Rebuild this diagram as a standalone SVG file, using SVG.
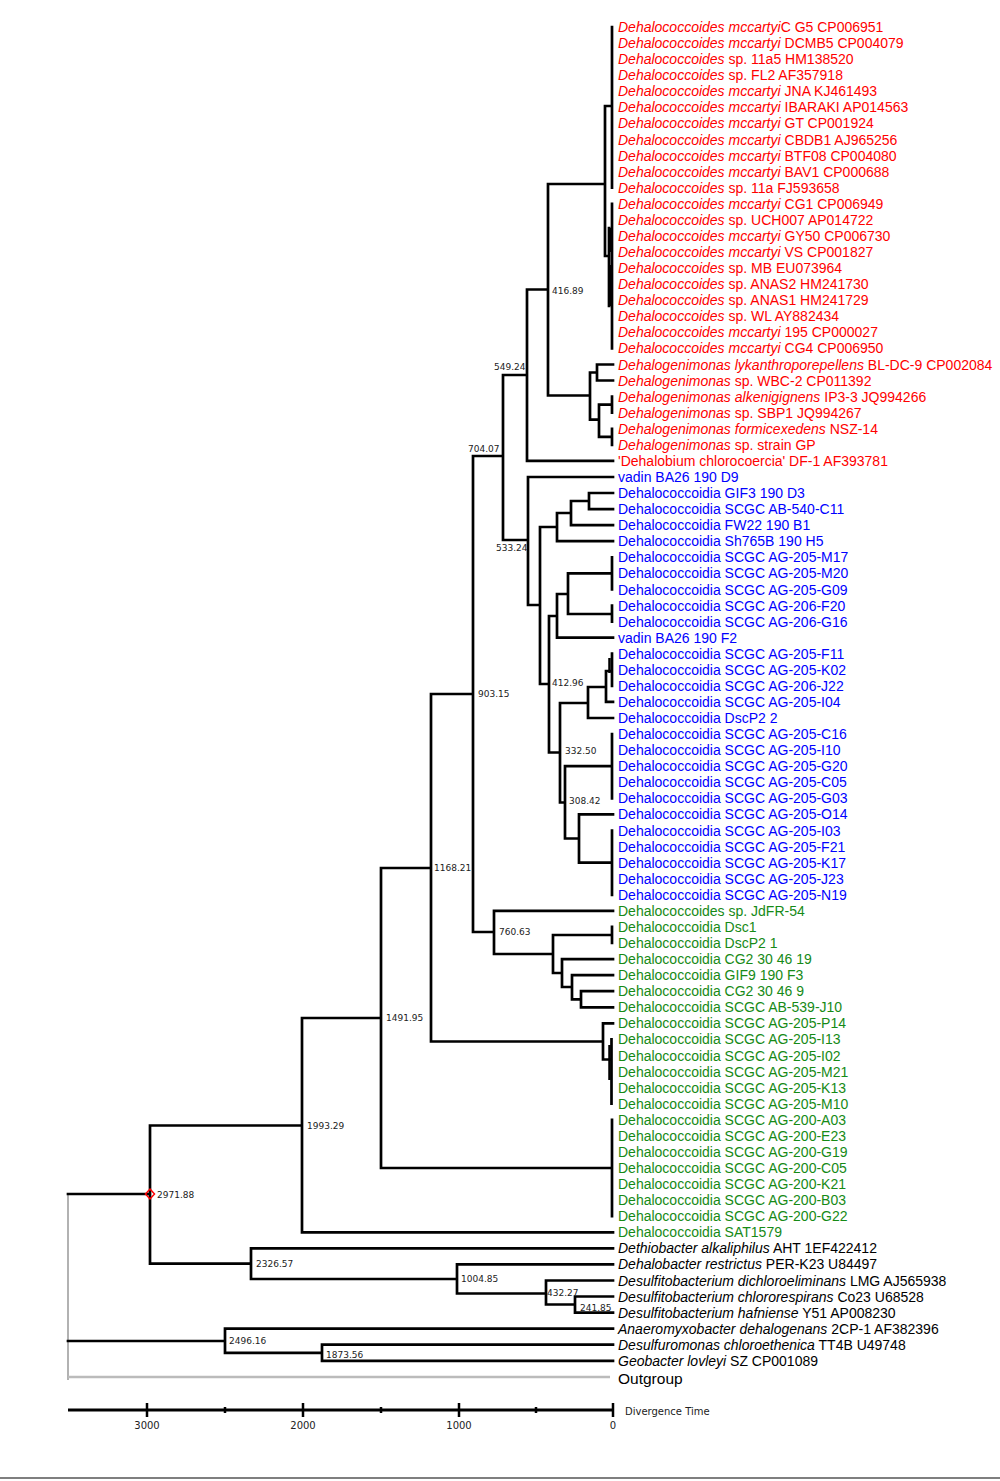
<svg xmlns="http://www.w3.org/2000/svg" width="1000" height="1481" viewBox="0 0 1000 1481">
<style>
.lf{font-family:"Liberation Sans",Arial,sans-serif;font-size:14px}
.r{fill:#ff0000}.b{fill:#0000ff}.g{fill:#168a16}.k{fill:#000}
.i{font-style:italic}
.nl{font-family:"DejaVu Sans",sans-serif;font-size:9px;fill:#222}
.br{fill:none;stroke:#000;stroke-width:2.7;stroke-linecap:square}
.ax{fill:none;stroke:#000}
.al{font-family:"DejaVu Sans",sans-serif;font-size:10px;fill:#222}
</style>
<rect width="1000" height="1481" fill="#fff"/>
<g id="connectors">
<path d="M68 1194 V1380" stroke="#999" stroke-width="1.5" fill="none"/>
<path d="M68 1377 H610" stroke="#bbb" stroke-width="2.5" fill="none"/>
<path class="br" d="M68 1194 H150 M68 1341 H225
M150 1125.5 V1263.7 M150 1125.5 H302 M150 1263.7 H251
M302 1018 V1232.3 M302 1018 H381 M302 1232.3 H613
M381 868 V1168 M381 868 H431 M381 1168 H612 M612 1119.8 V1216.2
M431 694 V1041.5 M431 694 H473 M431 1041.5 H603
M603 1023.3 V1059.5 M603 1023.3 H613 M603 1059.5 H611 M611.5 1039.4 V1103.7
M473 456 V932 M473 456 H503 M473 932 H494
M494 910.9 V954 M494 910.9 H613 M494 954 H553
M553 935 V973 M553 935 H612 M612 926.9 V943 M553 973 H562
M562 959.1 V987 M562 959.1 H613 M562 987 H572
M572 975.1 V999.3 M572 975.1 H613 M572 999.3 H581
M581 991.2 V1007.3 M581 991.2 H613 M581 1007.3 H613
M503 375 V540 M503 375 H527 M503 540 H528
M527 289.5 V460.9 M527 289.5 H548 M527 460.9 H613
M548 184 V395.5 M548 184 H605 M548 395.5 H590
M605 106 V256 M605 106 H612 M605 256 H609
M612 27 V187.7
M612 203.8 V348.4 M609 228 V306
M590 372.5 V419.7 M590 372.5 H597 M590 419.7 H599
M597 364.5 V380.5 M597 364.5 H613 M597 380.5 H613
M599 404.6 V436.8 M599 404.6 H612 M599 436.8 H612 M612 396.6 V412.7 M612 428.8 V444.8
M528 477 V605 M528 477 H613 M528 605 H540
M540 527 V684 M540 527 H557 M540 684 H549
M557 513 V541.2 M557 513 H571 M557 541.2 H613
M571 501 V525.2 M571 501 H589 M571 525.2 H613
M589 493 V509.1 M589 493 H613 M589 509.1 H613
M549 616 V752.5 M549 616 H557 M549 752.5 H560
M557 594 V637.7 M557 594 H568 M557 637.7 H613
M568 573.4 V614 M568 573.4 H612 M568 614 H612 M612 557.3 V589.5 M612 605.5 V621.6
M560 703 V802.5 M560 703 H588 M560 802.5 H565
M588 687 V718 M588 687 H606 M588 718 H613
M606 671 V701.9 M606 671 H612 M606 701.9 H613 M612 653.7 V685.9
M565 766.2 V838.5 M565 766.2 H612 M612 734.1 V798.4 M565 838.5 H579
M579 814.4 V862.6 M579 814.4 H613 M579 862.6 H612 M612 830.5 V894.8
M251 1248.3 V1279 M251 1248.3 H613 M251 1279 H457
M457 1264.4 V1293.5 M457 1264.4 H613 M457 1293.5 H546
M546 1280.5 V1304.5 M546 1280.5 H613 M546 1304.5 H575
M575 1296.5 V1312.6 M575 1296.5 H613 M575 1312.6 H613
M225 1328.7 V1352.8 M225 1328.7 H613 M225 1352.8 H322
M322 1344.7 V1360.8 M322 1344.7 H613 M322 1360.8 H613"/>
<path d="M610.5 228 V252 M610.5 265 V306 M609.5 658 V673 M609.5 1045 V1080" stroke="#000" stroke-width="2.5" fill="none"/>
<polygon points="150,1189 154.5,1194 150,1199 145.5,1194" fill="none" stroke="#ff0000" stroke-width="1.5"/>
</g>
<g id="leaves" class="lf">
<g id="n1"><text class="r" x="618" y="32"><tspan class="i">Dehalococcoides mccartyi</tspan>C G5 CP006951</text></g>
<g id="n2"><text class="r" x="618" y="48.1"><tspan class="i">Dehalococcoides mccartyi</tspan> DCMB5 CP004079</text></g>
<g id="n3"><text class="r" x="618" y="64.1"><tspan class="i">Dehalococcoides</tspan> sp. 11a5 HM138520</text></g>
<g id="n4"><text class="r" x="618" y="80.2"><tspan class="i">Dehalococcoides</tspan> sp. FL2 AF357918</text></g>
<g id="n5"><text class="r" x="618" y="96.3"><tspan class="i">Dehalococcoides mccartyi</tspan> JNA KJ461493</text></g>
<g id="n6"><text class="r" x="618" y="112.4"><tspan class="i">Dehalococcoides mccartyi</tspan> IBARAKI AP014563</text></g>
<g id="n7"><text class="r" x="618" y="128.4"><tspan class="i">Dehalococcoides mccartyi</tspan> GT CP001924</text></g>
<g id="n8"><text class="r" x="618" y="144.5"><tspan class="i">Dehalococcoides mccartyi</tspan> CBDB1 AJ965256</text></g>
<g id="n9"><text class="r" x="618" y="160.6"><tspan class="i">Dehalococcoides mccartyi</tspan> BTF08 CP004080</text></g>
<g id="n10"><text class="r" x="618" y="176.6"><tspan class="i">Dehalococcoides mccartyi</tspan> BAV1 CP000688</text></g>
<g id="n11"><text class="r" x="618" y="192.7"><tspan class="i">Dehalococcoides</tspan> sp. 11a FJ593658</text></g>
<g id="n12"><text class="r" x="618" y="208.8"><tspan class="i">Dehalococcoides mccartyi</tspan> CG1 CP006949</text></g>
<g id="n13"><text class="r" x="618" y="224.8"><tspan class="i">Dehalococcoides</tspan> sp. UCH007 AP014722</text></g>
<g id="n14"><text class="r" x="618" y="240.9"><tspan class="i">Dehalococcoides mccartyi</tspan> GY50 CP006730</text></g>
<g id="n15"><text class="r" x="618" y="257"><tspan class="i">Dehalococcoides mccartyi</tspan> VS CP001827</text></g>
<g id="n16"><text class="r" x="618" y="273.1"><tspan class="i">Dehalococcoides</tspan> sp. MB EU073964</text></g>
<g id="n17"><text class="r" x="618" y="289.1"><tspan class="i">Dehalococcoides</tspan> sp. ANAS2 HM241730</text></g>
<g id="n18"><text class="r" x="618" y="305.2"><tspan class="i">Dehalococcoides</tspan> sp. ANAS1 HM241729</text></g>
<g id="n19"><text class="r" x="618" y="321.3"><tspan class="i">Dehalococcoides</tspan> sp. WL AY882434</text></g>
<g id="n20"><text class="r" x="618" y="337.3"><tspan class="i">Dehalococcoides mccartyi</tspan> 195 CP000027</text></g>
<g id="n21"><text class="r" x="618" y="353.4"><tspan class="i">Dehalococcoides mccartyi</tspan> CG4 CP006950</text></g>
<g id="n22"><text class="r" x="618" y="369.5"><tspan class="i">Dehalogenimonas lykanthroporepellens</tspan> BL-DC-9 CP002084</text></g>
<g id="n23"><text class="r" x="618" y="385.5"><tspan class="i">Dehalogenimonas</tspan> sp. WBC-2 CP011392</text></g>
<g id="n24"><text class="r" x="618" y="401.6"><tspan class="i">Dehalogenimonas alkenigignens</tspan> IP3-3 JQ994266</text></g>
<g id="n25"><text class="r" x="618" y="417.7"><tspan class="i">Dehalogenimonas</tspan> sp. SBP1 JQ994267</text></g>
<g id="n26"><text class="r" x="618" y="433.8"><tspan class="i">Dehalogenimonas formicexedens</tspan> NSZ-14</text></g>
<g id="n27"><text class="r" x="618" y="449.8"><tspan class="i">Dehalogenimonas</tspan> sp. strain GP</text></g>
<g id="n28"><text class="r" x="618" y="465.9">'Dehalobium chlorocoercia' DF-1 AF393781</text></g>
<g id="n29"><text class="b" x="618" y="482">vadin BA26 190 D9</text></g>
<g id="n30"><text class="b" x="618" y="498">Dehalococcoidia GIF3 190 D3</text></g>
<g id="n31"><text class="b" x="618" y="514.1">Dehalococcoidia SCGC AB-540-C11</text></g>
<g id="n32"><text class="b" x="618" y="530.2">Dehalococcoidia FW22 190 B1</text></g>
<g id="n33"><text class="b" x="618" y="546.2">Dehalococcoidia Sh765B 190 H5</text></g>
<g id="n34"><text class="b" x="618" y="562.3">Dehalococcoidia SCGC AG-205-M17</text></g>
<g id="n35"><text class="b" x="618" y="578.4">Dehalococcoidia SCGC AG-205-M20</text></g>
<g id="n36"><text class="b" x="618" y="594.5">Dehalococcoidia SCGC AG-205-G09</text></g>
<g id="n37"><text class="b" x="618" y="610.5">Dehalococcoidia SCGC AG-206-F20</text></g>
<g id="n38"><text class="b" x="618" y="626.6">Dehalococcoidia SCGC AG-206-G16</text></g>
<g id="n39"><text class="b" x="618" y="642.7">vadin BA26 190 F2</text></g>
<g id="n40"><text class="b" x="618" y="658.7">Dehalococcoidia SCGC AG-205-F11</text></g>
<g id="n41"><text class="b" x="618" y="674.8">Dehalococcoidia SCGC AG-205-K02</text></g>
<g id="n42"><text class="b" x="618" y="690.9">Dehalococcoidia SCGC AG-206-J22</text></g>
<g id="n43"><text class="b" x="618" y="706.9">Dehalococcoidia SCGC AG-205-I04</text></g>
<g id="n44"><text class="b" x="618" y="723">Dehalococcoidia DscP2 2</text></g>
<g id="n45"><text class="b" x="618" y="739.1">Dehalococcoidia SCGC AG-205-C16</text></g>
<g id="n46"><text class="b" x="618" y="755.2">Dehalococcoidia SCGC AG-205-I10</text></g>
<g id="n47"><text class="b" x="618" y="771.2">Dehalococcoidia SCGC AG-205-G20</text></g>
<g id="n48"><text class="b" x="618" y="787.3">Dehalococcoidia SCGC AG-205-C05</text></g>
<g id="n49"><text class="b" x="618" y="803.4">Dehalococcoidia SCGC AG-205-G03</text></g>
<g id="n50"><text class="b" x="618" y="819.4">Dehalococcoidia SCGC AG-205-O14</text></g>
<g id="n51"><text class="b" x="618" y="835.5">Dehalococcoidia SCGC AG-205-I03</text></g>
<g id="n52"><text class="b" x="618" y="851.6">Dehalococcoidia SCGC AG-205-F21</text></g>
<g id="n53"><text class="b" x="618" y="867.6">Dehalococcoidia SCGC AG-205-K17</text></g>
<g id="n54"><text class="b" x="618" y="883.7">Dehalococcoidia SCGC AG-205-J23</text></g>
<g id="n55"><text class="b" x="618" y="899.8">Dehalococcoidia SCGC AG-205-N19</text></g>
<g id="n56"><text class="g" x="618" y="915.9">Dehalococcoides sp. JdFR-54</text></g>
<g id="n57"><text class="g" x="618" y="931.9">Dehalococcoidia Dsc1</text></g>
<g id="n58"><text class="g" x="618" y="948">Dehalococcoidia DscP2 1</text></g>
<g id="n59"><text class="g" x="618" y="964.1">Dehalococcoidia CG2 30 46 19</text></g>
<g id="n60"><text class="g" x="618" y="980.1">Dehalococcoidia GIF9 190 F3</text></g>
<g id="n61"><text class="g" x="618" y="996.2">Dehalococcoidia CG2 30 46 9</text></g>
<g id="n62"><text class="g" x="618" y="1012.3">Dehalococcoidia SCGC AB-539-J10</text></g>
<g id="n63"><text class="g" x="618" y="1028.3">Dehalococcoidia SCGC AG-205-P14</text></g>
<g id="n64"><text class="g" x="618" y="1044.4">Dehalococcoidia SCGC AG-205-I13</text></g>
<g id="n65"><text class="g" x="618" y="1060.5">Dehalococcoidia SCGC AG-205-I02</text></g>
<g id="n66"><text class="g" x="618" y="1076.6">Dehalococcoidia SCGC AG-205-M21</text></g>
<g id="n67"><text class="g" x="618" y="1092.6">Dehalococcoidia SCGC AG-205-K13</text></g>
<g id="n68"><text class="g" x="618" y="1108.7">Dehalococcoidia SCGC AG-205-M10</text></g>
<g id="n69"><text class="g" x="618" y="1124.8">Dehalococcoidia SCGC AG-200-A03</text></g>
<g id="n70"><text class="g" x="618" y="1140.8">Dehalococcoidia SCGC AG-200-E23</text></g>
<g id="n71"><text class="g" x="618" y="1156.9">Dehalococcoidia SCGC AG-200-G19</text></g>
<g id="n72"><text class="g" x="618" y="1173">Dehalococcoidia SCGC AG-200-C05</text></g>
<g id="n73"><text class="g" x="618" y="1189">Dehalococcoidia SCGC AG-200-K21</text></g>
<g id="n74"><text class="g" x="618" y="1205.1">Dehalococcoidia SCGC AG-200-B03</text></g>
<g id="n75"><text class="g" x="618" y="1221.2">Dehalococcoidia SCGC AG-200-G22</text></g>
<g id="n76"><text class="g" x="618" y="1237.3">Dehalococcoidia SAT1579</text></g>
<g id="n77"><text class="k" x="618" y="1253.3"><tspan class="i">Dethiobacter alkaliphilus</tspan> AHT 1EF422412</text></g>
<g id="n78"><text class="k" x="618" y="1269.4"><tspan class="i">Dehalobacter restrictus</tspan> PER-K23 U84497</text></g>
<g id="n79"><text class="k" x="618" y="1285.5"><tspan class="i">Desulfitobacterium dichloroeliminans</tspan> LMG AJ565938</text></g>
<g id="n80"><text class="k" x="618" y="1301.5"><tspan class="i">Desulfitobacterium chlororespirans</tspan> Co23 U68528</text></g>
<g id="n81"><text class="k" x="618" y="1317.6"><tspan class="i">Desulfitobacterium hafniense</tspan> Y51 AP008230</text></g>
<g id="n82"><text class="k" x="618" y="1333.7"><tspan class="i">Anaeromyxobacter dehalogenans</tspan> 2CP-1 AF382396</text></g>
<g id="n83"><text class="k" x="618" y="1349.7"><tspan class="i">Desulfuromonas chloroethenica</tspan> TT4B U49748</text></g>
<g id="n84"><text class="k" x="618" y="1365.8"><tspan class="i">Geobacter lovleyi</tspan> SZ CP001089</text></g>
<g id="outgroup"><text class="k" x="618" y="1383.5" font-size="15.5">Outgroup</text></g>
</g>
<g id="internal-nodes" class="nl">
<g id="t416"><text x="552" y="293.5">416.89</text></g>
<g id="t549"><text x="494" y="370">549.24</text></g>
<g id="t704"><text x="468" y="452">704.07</text></g>
<g id="t533"><text x="496" y="551">533.24</text></g>
<g id="t903"><text x="478" y="697">903.15</text></g>
<g id="t412"><text x="552" y="686">412.96</text></g>
<g id="t332"><text x="565" y="754">332.50</text></g>
<g id="t308"><text x="569" y="804">308.42</text></g>
<g id="t760"><text x="499" y="935">760.63</text></g>
<g id="t1168"><text x="434" y="871">1168.21</text></g>
<g id="t1491"><text x="386" y="1021">1491.95</text></g>
<g id="t1993"><text x="307" y="1129">1993.29</text></g>
<g id="t2971"><text x="157" y="1198">2971.88</text></g>
<g id="t2326"><text x="256" y="1267">2326.57</text></g>
<g id="t1004"><text x="461" y="1282">1004.85</text></g>
<g id="t432"><text x="547" y="1296">432.27</text></g>
<g id="t241"><text x="580" y="1311">241.85</text></g>
<g id="t2496"><text x="229" y="1344">2496.16</text></g>
<g id="t1873"><text x="326" y="1358">1873.56</text></g>
</g>
<g id="axis">
<path class="ax" stroke-width="3" d="M68 1410 H613"/>
<path class="ax" stroke-width="2.5" d="M147 1403 V1417 M303 1403 V1417 M459 1403 V1417 M613 1403 V1417"/>
<path class="ax" stroke-width="2.5" d="M225 1407 V1413 M381 1407 V1413 M536 1407 V1413"/>
<g class="al" text-anchor="middle">
<text x="147" y="1429">3000</text>
<text x="303" y="1429">2000</text>
<text x="459" y="1429">1000</text>
<text x="613" y="1429">0</text>
</g>
<text class="al" x="625" y="1415">Divergence Time</text>
</g>
<path d="M0 1478 H1000" stroke="#555" stroke-width="1.5"/>
</svg>
